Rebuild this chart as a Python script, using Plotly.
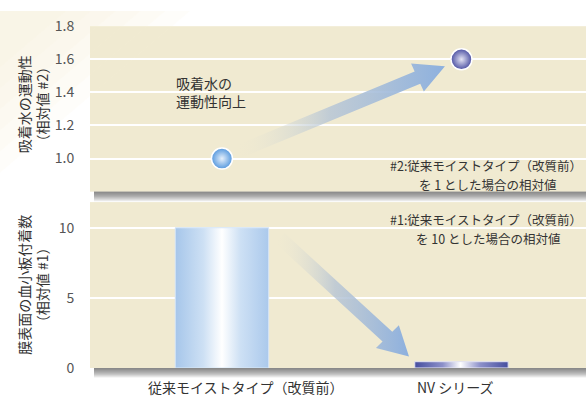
import numpy as np
import plotly.graph_objects as go

# ---------------- data ----------------
categories = ["従来モイストタイプ（改質前）", "NV シリーズ"]
mobility = [1.0, 1.6]          # 吸着水の運動性（相対値 #2）
platelets = [10.0, 0.45]       # 膜表面の血小板付着数（相対値 #1）
top_ticks = [1.0, 1.2, 1.4, 1.6, 1.8]
bottom_ticks = [0, 5, 10]

# ---------------- layout geometry ----------------
W, H = 586, 406
PX_L, PX_R = 90, 586
TOP_PX = (16, 190)       # top panel: top, bottom (px)
BOT_PX = (201, 375.5)    # bottom panel
XR = [-0.551, 1.52]
YR_TOP = [0.8, 1.8]
YR_BOT = [0, 11.83]
BW = 0.39
FONT = "Noto Sans CJK JP"
BG = "#f0ead1"


def dom(p):
    return [1 - p[1] / H, 1 - p[0] / H]


def to_px(x, y, yr, pp):
    px = PX_L + (x - XR[0]) / (XR[1] - XR[0]) * (PX_R - PX_L)
    py = pp[1] - (y - yr[0]) / (yr[1] - yr[0]) * (pp[1] - pp[0])
    return np.array([px, py])


def from_px(p, yr, pp):
    x = XR[0] + (p[0] - PX_L) / (PX_R - PX_L) * (XR[1] - XR[0])
    y = yr[0] + (pp[1] - p[1]) / (pp[1] - pp[0]) * (yr[1] - yr[0])
    return x, y


def arrow(a, b, off0, off1, yr, pp, shaft=14, hl=30, hw=32):
    a, b = np.array(a, float), np.array(b, float)
    u = (b - a) / np.linalg.norm(b - a)
    n = np.array([-u[1], u[0]])
    t = a + u * off0
    tip = b - u * off1
    base = tip - u * hl
    pts = [t + n * shaft / 2, base + n * shaft / 2, base + n * hw / 2, tip,
           base - n * hw / 2, base - n * shaft / 2, t - n * shaft / 2, t + n * shaft / 2]
    xs, ys = zip(*[from_px(p, yr, pp) for p in pts])
    return list(xs), list(ys)


fig = go.Figure()

# ---------------- top panel: arrow + points ----------------
p1 = to_px(0, mobility[0], YR_TOP, TOP_PX)
p2 = to_px(1, mobility[1], YR_TOP, TOP_PX)
ax_, ay_ = arrow(p1, p2, 18, 18, YR_TOP, TOP_PX)
fig.add_trace(go.Scatter(
    x=ax_, y=ay_, xaxis="x2", yaxis="y2", mode="lines", fill="toself",
    line=dict(width=0), hoverinfo="skip", showlegend=False,
    fillgradient=dict(type="horizontal",
                      colorscale=[[0, "rgba(240,234,209,0)"], [0.45, "rgba(180,196,214,0.8)"],
                                  [1, "rgba(141,176,222,1)"]])))

point_edge = ["#5598de", "#4c50a2"]
point_center = ["#e6f0fb", "#e4e4f4"]
for i in range(2):
    fig.add_trace(go.Scatter(
        x=[i], y=[mobility[i]], xaxis="x2", yaxis="y2", mode="markers",
        marker=dict(size=21, color=point_edge[i],
                    gradient=dict(type="radial", color=point_center[i]),
                    line=dict(color="white", width=1.5)),
        showlegend=False, name=categories[i]))

# ---------------- bottom panel: bars + arrow ----------------
bar_edge = ["#a9c8ea", "#4a51a0"]
bar_scales = [
    [[0, "#a6c6ea"], [0.3, "#cde0f4"], [0.5, "#ffffff"], [0.7, "#cde0f4"], [1, "#abc9ec"]],
    [[0, "#464e9f"], [0.3, "#8c90c9"], [0.49, "#ffffff"], [0.7, "#8c90c9"], [1, "#464e9f"]],
]
fig.add_trace(go.Bar(x=[0, 1], y=platelets, width=BW, marker=dict(color=bar_edge, line=dict(width=0)),
                     showlegend=False, hovertext=categories))
for i in range(2):
    x0, x1 = i - BW / 2, i + BW / 2
    fig.add_trace(go.Scatter(
        x=[x0, x1, x1, x0, x0], y=[0, 0, platelets[i], platelets[i], 0],
        mode="lines", fill="toself",
        line=dict(width=1, color="#d9e7f6" if i == 0 else "#e8e8f4"),
        hoverinfo="skip", showlegend=False,
        fillgradient=dict(type="horizontal", start=x0, stop=x1, colorscale=bar_scales[i])))

b1 = to_px(0 + BW / 2, platelets[0], YR_BOT, BOT_PX)
b2 = to_px(1 - BW / 2, platelets[1], YR_BOT, BOT_PX)
bx_, by_ = arrow(b1, b2, 15, 8, YR_BOT, BOT_PX, hw=33)
fig.add_trace(go.Scatter(
    x=bx_, y=by_, mode="lines", fill="toself", line=dict(width=0),
    hoverinfo="skip", showlegend=False,
    fillgradient=dict(type="horizontal",
                      colorscale=[[0, "rgba(240,234,209,0)"], [0.45, "rgba(182,196,212,0.8)"],
                                  [1, "rgba(141,176,222,1)"]])))

# ---------------- shapes: backdrop glow + shadows ----------------
shapes = []
for k in range(6):
    s = 1 - k * 0.13
    shapes.append(dict(type="path", xref="paper", yref="paper", layer="below",
                       path=f"M 0 1 L {190*s/W} 1 L 0 {1-170*s/H} Z",
                       fillcolor="rgba(246,240,214,0.12)", line=dict(width=0)))
for bottom in (TOP_PX[1], BOT_PX[1]):
    for k in range(1, 11):
        shapes.append(dict(type="rect", xref="paper", yref="paper", layer="below",
                           x0=(PX_L + 4) / W, x1=1, y0=1 - (bottom + k) / H, y1=1 - bottom / H,
                           fillcolor="rgba(75,75,75,0.095)", line=dict(width=0)))

# ---------------- annotations ----------------
txt = "#333"


def line_ann(text, xpx, ypx, size=12.5, anchor="center"):
    return dict(text=text, x=xpx / W, y=1 - ypx / H, xref="paper", yref="paper",
                xanchor=anchor, yanchor="middle", showarrow=False,
                font=dict(size=size, color=txt))


ann = [
    dict(text="吸着水の<br>運動性向上", x=174 / W, y=1 - 85 / H, xref="paper", yref="paper",
         xanchor="left", yanchor="middle", align="left", showarrow=False,
         font=dict(size=14, color=txt)),
    line_ann("#2:従来モイストタイプ（改質前）", 486, 163),
    line_ann("を 1 とした場合の相対値", 488, 183),
    line_ann("#1:従来モイストタイプ（改質前）", 486, 219),
    line_ann("を 10 とした場合の相対値", 488, 239),
    dict(text="吸着水の運動性<br>（相対値 #2）", x=33 / W, y=1 - 98 / H, xref="paper", yref="paper",
         textangle=-90, xanchor="center", yanchor="middle", showarrow=False,
         font=dict(size=14, color=txt)),
    dict(text="膜表面の血小板付着数<br>（相対値 #1）", x=33 / W, y=1 - 288 / H, xref="paper",
         yref="paper", textangle=-90, xanchor="center", yanchor="middle", showarrow=False,
         font=dict(size=14, color=txt)),
]
label_shift = [24, -6]
for i, c in enumerate(categories):
    ann.append(dict(text=c, x=i, y=1 - 395 / H, xref="x", yref="paper", xshift=label_shift[i],
                    xanchor="center", yanchor="middle", showarrow=False,
                    font=dict(size=14, color=txt)))

axis_common = dict(showline=False, zeroline=False, gridcolor="white", gridwidth=1.5,
                   tickfont=dict(size=14, color="#555"), ticks="outside", ticklen=12,
                   tickcolor="rgba(0,0,0,0)")

fig.update_layout(
    width=W, height=H, margin=dict(l=0, r=0, t=0, b=0),
    paper_bgcolor="white", plot_bgcolor=BG, font=dict(family=FONT, color=txt),
    showlegend=False, barmode="overlay",
    xaxis=dict(domain=[PX_L / W, 1], range=XR, anchor="y", showgrid=False, zeroline=False,
               showticklabels=False, tickvals=[0, 1]),
    yaxis=dict(domain=dom(BOT_PX), range=YR_BOT, tickvals=bottom_ticks, anchor="x", **axis_common),
    xaxis2=dict(domain=[PX_L / W, 1], range=XR, anchor="y2", matches="x", showgrid=False,
                zeroline=False, showticklabels=False),
    yaxis2=dict(domain=dom(TOP_PX), range=YR_TOP, tickvals=top_ticks, tickformat=".1f",
                anchor="x2", **axis_common),
    shapes=shapes, annotations=ann,
)

fig.write_html("out.html")
